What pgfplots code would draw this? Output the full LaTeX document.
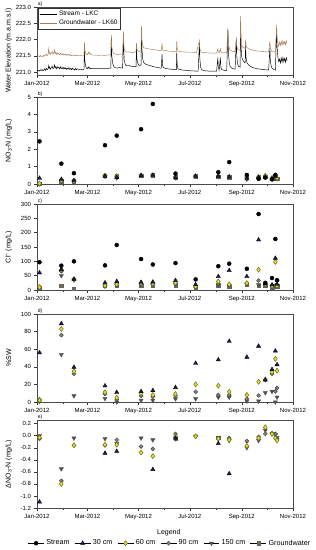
\documentclass[border=0pt]{standalone}
\usepackage{fontspec}
\setmainfont{Liberation Sans}
\usepackage{pgfplots}
\pgfplotsset{compat=1.18}

\definecolor{gwline}{RGB}{165,125,85}
\definecolor{navy}{RGB}{30,30,90}
\definecolor{yel}{RGB}{228,228,30}
\definecolor{yeld}{RGB}{105,105,40}
\definecolor{g90}{RGB}{140,140,135}
\definecolor{g90d}{RGB}{75,75,70}
\definecolor{g150}{RGB}{78,88,62}
\definecolor{gw}{RGB}{125,105,65}

\pgfplotsset{
  base/.style={
    scale only axis, width=256pt,
    xmin=0, xmax=305,
    xtick={0,60,121,182,244,305},
    xticklabels={Jan-2012,Mar-2012,May-2012,Jul-2012,Sep-2012,Nov-2012},
    minor xtick={31,91,152,213,274},
    tick align=outside, tick pos=left,
    major tick length=2.5pt, minor tick length=1.5pt,
    tick style={black!80, line width=0.4pt},
    axis line style={black!70, line width=0.4pt},
    ticklabel style={font=\fontsize{6}{7}\selectfont},
    /pgf/number format/assume math mode=true,
    label style={font=\fontsize{7}{8}\selectfont},
    ylabel style={at={(axis description cs:-0.11,0.5)}, anchor=center},
    clip=false,
  },
  st/.style={only marks, mark=*, mark size=2pt, mark options={fill=black, draw=black}},
  c30/.style={only marks, mark=triangle*, mark size=2.4pt, mark options={fill=navy, draw=black}},
  c60/.style={only marks, mark=diamond*, mark size=2.5pt, mark options={fill=yel, draw=yeld, line width=0.5pt}},
  c90/.style={only marks, mark=*, mark size=1.9pt, mark options={fill=g90, draw=g90d, line width=0.6pt}},
  c150/.style={only marks, mark=triangle*, mark size=2.4pt, mark options={fill=g150, draw=black!70, rotate=180}},
  cgw/.style={only marks, mark=square*, mark size=1.7pt, mark options={fill=gw, draw=black!60}},
}
\newcommand{\plab}[1]{\node[anchor=south west, inner sep=0.6pt, font=\fontsize{5}{5}\selectfont] at (rel axis cs:0,1) {#1};}

\begin{document}
\begin{tikzpicture}
\useasboundingbox (0,0) rectangle (316pt,-550pt);

% ---------------- a) water elevation
\begin{axis}[base, at={(37pt,-7pt)}, anchor=north west, height=68pt,
  ymin=220.91, ymax=223.0, ytick={221,221.5,222,222.5,223},
  yticklabel style={/pgf/number format/.cd, fixed, fixed zerofill, precision=1},
  ylabel={Water Elevation (m.a.m.s.l)},
  ylabel style={at={(axis description cs:-0.11,1.03)}, anchor=east},
  legend style={at={(0.005,0.985)}, anchor=north west, draw=black!80, fill=white,
    font=\fontsize{6.5}{7}\selectfont, inner sep=1pt, row sep=-1.5pt},
  legend cell align=left]
\addplot[black, line width=0.45pt] coordinates {
(0,221.04)(2,221.06)(3,221.03)(4,221.07)(5,221.05)(6,221.08)(7,221.04)(8,221.06)(9,221.10)(10,221.05)
(11,221.12)(12,221.07)(13,221.09)(14,221.20)(14.5,221.12)(15,221.15)(16,221.09)(17,221.14)(18,221.18)(19,221.10)
(20,221.13)(21,221.22)(21.5,221.14)(22,221.16)(23,221.10)(24,221.17)(25,221.12)(26,221.15)(27,221.10)(28,221.16)
(29,221.11)(30,221.14)(31,221.09)(32,221.15)(33,221.10)(34,221.13)(35,221.08)(36,221.12)(37,221.09)(38,221.14)
(39,221.08)(40,221.11)(41,221.07)(42,221.12)(43,221.08)(44,221.10)(45,221.06)(46,221.11)(47,221.07)(48,221.10)
(50,221.08)(52,221.09)(54,221.07)(56,221.08)(56.5,221.70)(57,221.35)(58,221.18)(59,221.12)(60,221.10)(61,221.16)
(62,221.11)(63,221.14)(64,221.10)(66,221.11)(68,221.10)(70,221.12)(72,221.11)(74,221.10)(76,221.12)(78,221.11)
(80,221.10)(82,221.12)(84,221.11)(86,221.12)(88,221.12)(88.5,222.05)(89,221.55)(90,221.30)(91,221.20)(92,221.15)
(94,221.13)(96,221.12)(98,221.14)(100,221.13)(102,221.12)(103,222.15)(103.5,221.60)(104,221.35)(105,221.25)(106,221.20)
(108,221.19)(110,221.20)(112,221.18)(114,221.17)(116,221.18)(118,221.17)(118.5,221.75)(119,221.40)(120,221.28)(121,221.22)
(122,221.20)(124,221.22)(124.5,222.30)(125,221.70)(126,221.40)(127,221.30)(128,221.26)(130,221.24)(132,221.22)(134,221.20)
(136,221.19)(138,221.17)(140,221.16)(142,221.15)(144,221.14)(146,221.13)(148,221.12)(149,221.55)(149.5,221.25)(150,221.16)
(152,221.12)(154,221.11)(156,221.10)(158,221.09)(160,221.09)(162,221.08)(164,221.08)(166,221.07)(166.5,221.60)(167,221.22)
(168,221.10)(170,221.08)(172,221.07)(174,221.06)(176,221.06)(178,221.05)(180,221.05)(182,221.04)(184,221.04)(186,221.04)
(188,221.03)(190,221.03)(192,221.03)(193.5,221.90)(194,221.40)(195,221.15)(196,221.08)(198,221.05)(200,221.04)(202,221.04)
(204,221.03)(206,221.03)(208,221.03)(210,221.03)(212,221.03)(214,221.03)(215.5,221.45)(216,221.15)(217,221.06)(218.5,221.45)
(219,221.15)(220,221.08)(222,221.06)(224,221.05)(226,221.05)(227.5,222.30)(228,221.60)(229,221.30)(230,221.18)(232,221.12)
(234,221.10)(236,221.09)(237.5,222.00)(238,221.50)(239,221.25)(240,221.18)(242,221.15)(242.5,222.45)(243,221.90)(243.5,221.60)
(244,221.45)(245,221.38)(246,221.34)(247,221.30)(248,221.28)(248.5,221.80)(249,221.45)(250,221.30)(252,221.22)(254,221.18)
(256,221.15)(258,221.13)(260,221.12)(262,221.10)(264,221.10)(266,221.09)(268,221.08)(270,221.08)(272,221.07)(274,221.07)
(276,221.07)(277.5,221.75)(278,221.35)(279,221.18)(280,221.12)(282,221.08)(284,221.06)(285.5,222.35)(286,221.80)(287,221.45)
(288,221.32)(289,221.40)(290,221.28)(291,221.43)(292,221.30)(293,221.45)(294,221.32)(295,221.42)(296,221.30)(297,221.44)(298,221.35)
};
\addlegendentry{Stream - LKC}
\addplot[gwline, line width=0.45pt] coordinates {
(0,221.49)(2,221.50)(3,221.47)(4,221.51)(5,221.48)(6,221.50)(7,221.47)(8,221.52)(9,221.49)(10,221.51)
(11,221.55)(12,221.50)(13,221.53)(14,221.72)(14.5,221.58)(15,221.60)(16,221.54)(17,221.58)(18,221.63)(19,221.55)
(20,221.58)(21,221.68)(21.5,221.58)(22,221.60)(23,221.54)(24,221.60)(25,221.55)(26,221.57)(27,221.53)(28,221.58)
(29,221.54)(30,221.56)(31,221.52)(32,221.56)(33,221.53)(34,221.55)(35,221.51)(36,221.54)(37,221.52)(38,221.55)
(39,221.51)(40,221.53)(41,221.50)(42,221.53)(43,221.51)(44,221.52)(45,221.50)(46,221.52)(47,221.50)(48,221.51)
(50,221.50)(52,221.51)(54,221.50)(56,221.50)(56.5,221.92)(57,221.68)(58,221.58)(59,221.54)(60,221.53)(61,221.62)
(62,221.55)(63,221.60)(64,221.54)(66,221.53)(68,221.52)(70,221.52)(72,221.52)(74,221.51)(76,221.52)(78,221.52)
(80,221.51)(82,221.52)(84,221.52)(86,221.53)(88,221.53)(88.5,222.14)(89,221.80)(90,221.65)(91,221.58)(92,221.56)
(94,221.55)(96,221.54)(98,221.55)(100,221.55)(102,221.55)(103,222.24)(103.5,221.85)(104,221.70)(105,221.64)(106,221.62)
(108,221.61)(110,221.62)(112,221.61)(114,221.60)(116,221.61)(118,221.62)(118.5,221.89)(119,221.72)(120,221.66)(121,221.64)
(122,221.63)(124,221.66)(124.5,222.42)(125,222.00)(126,221.82)(127,221.76)(128,221.74)(130,221.73)(132,221.72)(134,221.71)
(136,221.70)(138,221.69)(140,221.69)(142,221.68)(144,221.67)(146,221.67)(148,221.66)(149,221.88)(149.5,221.72)(150,221.67)
(152,221.66)(154,221.66)(156,221.65)(158,221.64)(160,221.64)(162,221.63)(164,221.63)(166,221.62)(166.5,221.95)(167,221.72)
(168,221.65)(170,221.63)(175,221.62)(180,221.61)(185,221.61)(190,221.60)(193.5,221.97)(194,221.72)(195,221.64)(196,221.61)
(200,221.60)(205,221.59)(210,221.58)(214,221.58)(215.5,221.72)(216,221.62)(217,221.59)(218.5,221.72)(219,221.62)(220,221.60)
(222,221.59)(226,221.60)(227.5,222.36)(228,221.95)(229,221.75)(230,221.68)(232,221.65)(234,221.63)(236,221.63)(237.5,222.07)
(238,221.82)(239,221.70)(240,221.68)(242,221.67)(242.5,222.72)(243,222.20)(243.5,221.95)(244,221.82)(245,221.77)(246,221.75)
(247,221.74)(248,221.73)(248.5,222.00)(249,221.82)(250,221.76)(252,221.72)(254,221.70)(256,221.68)(258,221.67)(260,221.66)
(262,221.65)(264,221.64)(266,221.64)(268,221.63)(270,221.63)(272,221.62)(274,221.62)(276,221.62)(277.5,221.95)(278,221.75)
(279,221.66)(280,221.63)(282,221.62)(284,221.62)(285.5,222.45)(286,222.05)(287,221.88)(288,221.80)(289,221.92)(290,221.82)
(291,221.95)(292,221.83)(293,221.96)(294,221.85)(295,221.94)(296,221.84)(297,221.96)(298,221.88)
};
\addlegendentry{Groundwater - LK60}
\plab{a)}
\end{axis}

% ---------------- b) NO3-N
\begin{axis}[base, at={(37pt,-97pt)}, anchor=north west, height=87pt,
  ymin=0, ymax=5, ytick={0,1,2,3,4,5},
  ylabel={NO\textsubscript{3}-N (mg/L)}]
\addplot[cgw] coordinates {(3,0.02)(29,0.17)(44,0.17)(81,0.47)(95,0.47)(124,0.49)(138,0.51)(165,0.4)(189,0.44)(216,0.43)(229,0.4)(250,0.42)(264,0.4)(272,0.42)(280,0.3)(284,0.38)(286,0.3)};
\addplot[c150] coordinates {(3,0.01)(29,0.15)(44,0.16)(81,0.44)(95,0.35)(124,0.48)(138,0.49)(165,0.36)(189,0.43)(216,0.42)(229,0.38)(250,0.28)(264,0.35)(272,0.38)(280,0.28)(284,0.33)(286,0.3)};
\addplot[c90] coordinates {(3,0.02)(29,0.18)(44,0.17)(81,0.46)(95,0.46)(124,0.5)(138,0.5)(165,0.42)(189,0.44)(216,0.44)(229,0.41)(250,0.4)(264,0.38)(272,0.4)(280,0.32)(284,0.4)(286,0.33)};
\addplot[c60] coordinates {(3,0.03)(29,0.2)(44,0.18)(81,0.48)(95,0.45)(124,0.5)(138,0.5)(165,0.42)(189,0.45)(216,0.45)(229,0.42)(250,0.45)(264,0.4)(272,0.48)(280,0.35)(284,0.5)(286,0.35)};
\addplot[c30] coordinates {(3,0.33)(29,0.27)(44,0.2)(81,0.45)(95,0.38)(124,0.48)(138,0.5)(165,0.36)(189,0.44)(216,0.45)(229,0.4)(250,0.3)(264,0.38)(272,0.4)(280,0.3)(284,0.45)};
\addplot[st] coordinates {(3,2.45)(29,1.17)(44,0.62)(81,2.23)(95,2.78)(124,3.15)(138,4.6)(165,0.6)(216,0.68)(229,1.26)(250,0.52)(264,0.3)(272,0.37)(280,0.27)(284,0.52)};
\plab{b)}
\end{axis}

% ---------------- c) Cl
\begin{axis}[base, at={(37pt,-204pt)}, anchor=north west, height=86pt,
  ymin=0, ymax=300, ytick={0,50,100,150,200,250,300},
  ylabel={Cl\textsuperscript{--} (mg/L)}]
\addplot[cgw] coordinates {(3,8)(29,14)(44,5)(81,14)(95,17)(124,15)(138,16)(165,16)(189,4)(216,14)(229,12)(250,20)(264,14)(272,14)(280,10)(284,14)(286,13)};
\addplot[c150] coordinates {(3,9)(29,50)(44,35)(81,13)(95,17)(124,19)(138,19)(165,20)(189,8)(216,18)(229,16)(250,20)(264,18)(272,17)(280,12)(284,14)(286,12)};
\addplot[c90] coordinates {(3,11)(29,65)(44,36)(81,15)(95,19)(124,21)(138,20)(165,22)(189,10)(216,22)(229,18)(250,22)(264,33)(272,20)(280,14)(284,16)(286,35)};
\addplot[c60] coordinates {(3,10)(29,71)(44,37)(81,16)(95,20)(124,24)(138,22)(165,25)(189,12)(216,30)(229,20)(250,24)(264,71)(272,20)(280,14)(284,98)(286,15)};
\addplot[c30] coordinates {(3,60)(29,72)(44,38)(81,25)(95,30)(124,27)(138,28)(165,33)(189,19)(216,47)(229,68)(250,47)(264,175)(272,22)(280,18)(284,111)(286,20)};
\addplot[st] coordinates {(3,97)(29,85)(44,100)(81,86)(95,157)(124,108)(138,89)(165,94)(189,37)(216,83)(229,92)(250,74)(264,265)(272,25)(280,42)(284,178)(286,34)};
\plab{c)}
\end{axis}

% ---------------- d) %SW
\begin{axis}[base, at={(37pt,-314pt)}, anchor=north west, height=88pt,
  ymin=0, ymax=100, ytick={0,20,40,60,80,100},
  ylabel={\%SW}]
\addplot[c150] coordinates {(3,0.5)(29,54)(44,7)(81,4)(95,0)(124,2)(138,2)(165,3.6)(189,3.6)(216,5.5)(229,5.5)(250,1)(264,1)(272,10.5)(280,12)(284,0)(286,5.5)};
\addplot[c90] coordinates {(3,3)(29,76)(44,32)(81,9)(95,3)(124,7)(138,6)(165,7.5)(189,11.6)(216,8)(229,8)(250,3.6)(264,7.4)(272,25)(280,32)(284,12)(286,16)};
\addplot[c60] coordinates {(3,2)(29,83)(44,35)(81,11)(95,5)(124,10)(138,8)(165,9)(189,20)(216,18.5)(229,11.6)(250,8)(264,23)(272,25.7)(280,34)(284,49)(286,35.6)};
\addplot[c30] coordinates {(3,56)(29,89)(44,39.5)(81,18.4)(95,11)(124,12)(138,13)(165,16.5)(189,44)(216,48)(229,69)(250,51)(264,63.5)(272,25)(280,37)(284,58)(286,42.5)};
\plab{d)}
\end{axis}

% ---------------- e) delta NO3-N
\begin{axis}[base, at={(37pt,-420pt)}, anchor=north west, height=88pt,
  ymin=-1.2, ymax=0.26, ytick={-1.2,-1,-0.8,-0.6,-0.4,-0.2,0,0.2},
  yticklabel style={/pgf/number format/.cd, fixed, fixed zerofill, precision=1},
  ylabel={ΔNO\textsubscript{3}-N (mg/L)},
  legend image code/.code={\path (0cm,0cm) -- (0.56cm,0cm); \draw[#1] plot coordinates {(0.28cm,0cm)};},
  legend style={at={(0.52,-0.40)}, anchor=center, draw=none, fill=none,
    legend columns=6, font=\fontsize{7.2}{8}\selectfont,
    /tikz/every even column/.append style={column sep=3pt}}]
\addplot[cgw, forget plot] coordinates {(165,-0.04)(216,-0.03)};
\addplot[c150, forget plot] coordinates {(3,0)(29,-0.55)(44,-0.04)(81,-0.05)(95,-0.13)(124,-0.04)(138,-0.07)(165,-0.05)(189,-0.01)(216,-0.03)(229,-0.08)(250,-0.2)(264,-0.08)(272,0.09)(280,0.03)(284,0.01)(286,-0.03)};
\addplot[c90, forget plot] coordinates {(3,-0.05)(29,-0.75)(44,-0.16)(81,-0.16)(95,-0.07)(124,-0.18)(138,-0.22)(165,0.03)(189,-0.01)(216,-0.04)(229,-0.04)(250,-0.09)(264,-0.02)(272,0.03)(280,0.04)(284,0.03)(286,-0.05)};
\addplot[c60, forget plot] coordinates {(3,-0.03)(29,-0.8)(44,-0.16)(81,-0.15)(95,-0.15)(124,-0.28)(138,-0.34)(165,-0.01)(189,-0.01)(216,-0.05)(229,-0.07)(250,-0.17)(264,-0.04)(272,0.14)(280,0.03)(284,-0.04)(286,-0.08)};
\addplot[c30, forget plot] coordinates {(3,-1.1)(81,-0.29)(95,-0.26)(138,-0.56)(165,-0.04)(216,-0.13)(229,-0.63)};
\addlegendimage{st}\addlegendentry{Stream}
\addlegendimage{c30}\addlegendentry{30 cm}
\addlegendimage{c60}\addlegendentry{60 cm}
\addlegendimage{c90}\addlegendentry{90 cm}
\addlegendimage{c150}\addlegendentry{150 cm}
\addlegendimage{cgw}\addlegendentry{Groundwater}
\node[font=\fontsize{7}{8}\selectfont] at (axis description cs:0.515,-0.285) {Legend};
\plab{e)}
\end{axis}
\end{tikzpicture}
\end{document}
